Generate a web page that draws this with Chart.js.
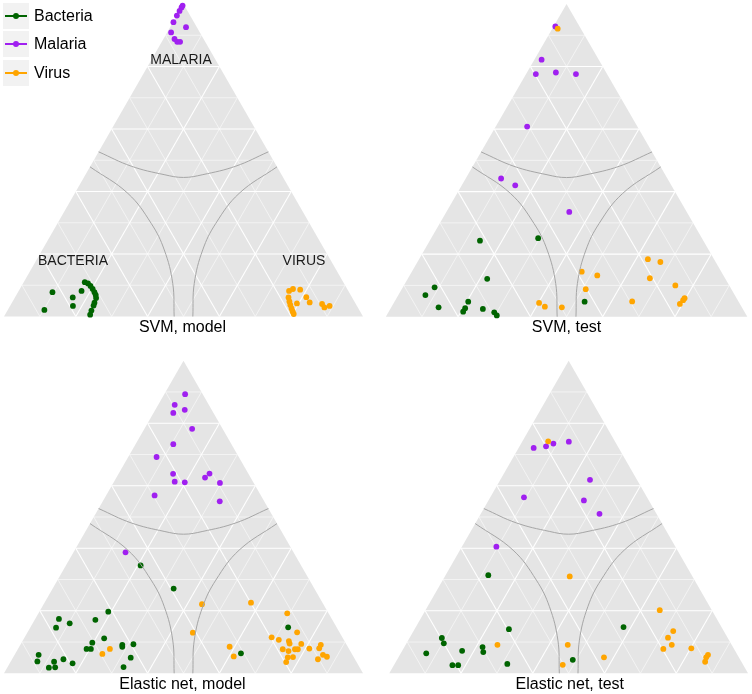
<!DOCTYPE html>
<html>
<head>
<meta charset="utf-8">
<script src="https://cdn.jsdelivr.net/npm/chart.js@4.4.1/dist/chart.umd.min.js"></script>
<style>
  body { margin: 0; width: 752px; height: 694px; overflow: hidden; background: #fff; position: relative;
         font-family: "Liberation Sans", Arial, Helvetica, sans-serif; color: #000; }
  .panel { position: absolute; }
  .corner { position: absolute; font-size: 14px; line-height: 14px; color: #1a1a1a; transform: translateX(-50%); white-space: nowrap; }
  .legend { position: absolute; left: 3px; top: 3px; }
  .row { display: flex; align-items: center; height: 26px; margin-bottom: 2.4px; }
  .key { position: relative; width: 26px; height: 26px; background: #f2f2f2; }
  .key .ln { position: absolute; left: 2px; right: 2px; top: 12px; height: 2px; }
  .key .dot { position: absolute; left: 10px; top: 10px; width: 6px; height: 6px; border-radius: 50%; }
  .lbl { font-size: 16px; line-height: 16px; margin-left: 5px; }
</style>
</head>
<body>
<div class="panel" style="left:0;top:0;width:376px;height:340px"><canvas id="svmModel"></canvas></div>
<div class="panel" style="left:376px;top:0;width:376px;height:340px"><canvas id="svmTest"></canvas></div>
<div class="panel" style="left:0;top:340px;width:376px;height:354px"><canvas id="enetModel"></canvas></div>
<div class="panel" style="left:376px;top:340px;width:376px;height:354px"><canvas id="enetTest"></canvas></div>

<div class="legend" id="legend"></div>
<div class="corner" style="left:181px;top:52px">MALARIA</div>
<div class="corner" style="left:73px;top:253px">BACTERIA</div>
<div class="corner" style="left:304px;top:253px">VIRUS</div>

<script>
// class names and panel titles
const classes = ["Bacteria", "Malaria", "Virus"];
const panelTitles = ["SVM, model", "SVM, test", "Elastic net, model", "Elastic net, test"];
const gridTicks = [0.1, 0.2, 0.3, 0.4, 0.5, 0.6, 0.7, 0.8, 0.9];

// every point is [malaria, virus]; bacteria = 1 - malaria - virus
const svmModelBacteria = [[.078,.096],[.021,.102],[.061,.161],[.082,.175],[.034,.175],[.110,.170],[.106,.181],[.098,.192],
  [.088,.203],[.078,.213],[.069,.221],[.059,.227],[.044,.230],[.035,.232],[.019,.234],[.006,.237]];
const svmModelMalaria = [[.995,0],[.989,0],[.978,0],[.963,0],[.942,.001],[.926,.044],[.909,.011],[.888,.031],[.879,.043],[.879,.051]];
const svmModelVirus = [[.082,.753],[.088,.761],[.086,.782],[.062,.811],[.045,.829],[.042,.795],[.061,.762],[.048,.771],
  [.037,.779],[.026,.788],[.016,.796],[.008,.803],[.040,.866],[.029,.878],[.034,.890]];

const svmTestBacteria = [[.243,.139],[.251,.296],[.121,.220],[.094,.088],[.069,.075],[.030,.131],[.048,.204],[.027,.206],
  [.016,.206],[.025,.256],[.014,.293],[.004,.305],[.048,.526]];
const svmTestMalaria = [[.928,.005],[.822,.020],[.776,.027],[.781,.080],[.776,.138],[.608,.087],[.442,.098],[.420,.148],[.335,.340]];
const svmTestVirus = [[.921,.015],[.184,.633],[.175,.672],[.144,.470],[.132,.519],[.123,.669],[.100,.751],[.088,.509],
  [.044,.402],[.032,.424],[.030,.472],[.049,.657],[.059,.797],[.053,.796],[.041,.793]];

const enetModelBacteria = [[.345,.208],[.271,.337],[.197,.192],[.174,.066],[.171,.169],[.160,.103],[.146,.072],[.112,.223],
  [.098,.197],[.078,.191],[.078,.203],[.091,.284],[.085,.287],[.093,.314],[.050,.328],[.020,.323],[.059,.067],[.038,.074],
  [.037,.121],[.045,.143],[.032,.175],[.018,.116],[.019,.133],[.147,.718],[.064,.628]];
const enetModelMalaria = [[.893,.058],[.859,.046],[.843,.082],[.833,.055],[.782,.133],[.733,.105],[.692,.079],[.638,.152],
  [.613,.169],[.611,.198],[.626,.247],[.639,.253],[.609,.297],[.569,.135],[.550,.326],[.387,.145]];
const enetModelVirus = [[.221,.441],[.226,.575],[.130,.461],[.078,.256],[.062,.243],[.085,.586],[.054,.613],[.192,.693],
  [.131,.751],[.115,.688],[.107,.712],[.103,.742],[.095,.748],[.094,.781],[.077,.738],[.071,.757],[.077,.772],[.077,.780],
  [.079,.811],[.091,.837],[.080,.838],[.051,.765],[.052,.779],[.036,.768],[.059,.859],[.053,.873],[.045,.852]];

const enetTestBacteria = [[.314,.119],[.141,.263],[.148,.579],[.113,.090],[.096,.104],[.064,.071],[.072,.167],[.084,.218],
  [.068,.228],[.026,.163],[.026,.179],[.030,.314],[.043,.490]];
const enetTestMalaria = [[.721,.042],[.726,.074],[.735,.090],[.741,.130],[.619,.250],[.563,.094],[.553,.266],[.510,.331],[.405,.096]];
const enetTestVirus = [[.742,.072],[.310,.348],[.202,.653],[.135,.724],[.114,.720],[.091,.742],[.078,.725],[.080,.802],
  [.059,.859],[.051,.858],[.037,.862],[.051,.573],[.091,.452],[.027,.470],[.091,.256]];

// decision boundaries, [bacteria, malaria, virus]
const malariaBoundary = [[.473,.527,0],[.405,.481,.114],[.327,.454,.219],[.2775,.445,.2775],[.219,.454,.327],[.114,.481,.405],[0,.527,.473]];
const bacteriaBoundary = [[.521,.479,0],[.458,.394,.148],[.441,.298,.261],[.447,.213,.340],[.477,.106,.417],[.526,0,.474]];
const virusBoundary = [[0,.479,.521],[.148,.394,.458],[.261,.298,.441],[.340,.213,.447],[.417,.106,.477],[.474,0,.526]];

const classColors = ["#006400", "#a020f0", "#ffa500"];
const SQ = Math.sqrt(3) / 2;
const toXY = (m, v) => ({ x: v + m / 2, y: m * SQ });

Chart.defaults.font.family = '"Liberation Sans", Arial, Helvetica, sans-serif';
Chart.defaults.color = "#000";

const ternaryBackground = {
  id: "ternaryBackground",
  beforeDatasetsDraw(chart) {
    const { ctx, scales: { x, y } } = chart;
    const P = (b, m, v) => [x.getPixelForValue(v + m / 2), y.getPixelForValue(m * SQ)];
    const seg = (a, c) => { ctx.beginPath(); ctx.moveTo(a[0], a[1]); ctx.lineTo(c[0], c[1]); ctx.stroke(); };
    ctx.save();
    ctx.beginPath();
    ctx.moveTo(...P(1, 0, 0));
    ctx.lineTo(...P(0, 1, 0));
    ctx.lineTo(...P(0, 0, 1));
    ctx.closePath();
    ctx.fillStyle = "#e5e5e5";
    ctx.fill();
    ctx.strokeStyle = "#ffffff";
    gridTicks.forEach((f, i) => {
      ctx.lineWidth = i % 2 ? 1.1 : 0.55;
      seg(P(1 - f, f, 0), P(0, f, 1 - f));
      seg(P(1 - f, 0, f), P(0, 1 - f, f));
      seg(P(f, 1 - f, 0), P(f, 0, 1 - f));
    });
    ctx.restore();
  }
};

function pointSet(label, pts, color, order) {
  return {
    label,
    data: pts.map(([m, v]) => toXY(m, v)),
    backgroundColor: color,
    borderWidth: 0,
    pointRadius: 2.9,
    order,
    clip: false
  };
}

function curveSet(pts) {
  return {
    data: pts.map(([b, m, v]) => toXY(m, v)),
    showLine: true,
    tension: 0.4,
    borderColor: "#a6a6a6",
    borderWidth: 1,
    pointRadius: 0,
    order: 0,
    clip: false
  };
}

function makePanel(id, title, series, padding, titleTop) {
  new Chart(document.getElementById(id), {
    type: "scatter",
    data: {
      datasets: [
        curveSet(malariaBoundary),
        curveSet(bacteriaBoundary),
        curveSet(virusBoundary),
        pointSet(classes[0], series[0], classColors[0], 3),
        pointSet(classes[1], series[1], classColors[1], 2),
        pointSet(classes[2], series[2], classColors[2], 1)
      ]
    },
    options: {
      responsive: true,
      maintainAspectRatio: false,
      animation: false,
      events: [],
      layout: { padding },
      scales: {
        x: { type: "linear", min: 0, max: 1, display: false },
        y: { type: "linear", min: 0, max: SQ, display: false }
      },
      plugins: {
        legend: { display: false },
        tooltip: { enabled: false },
        title: {
          display: true,
          text: title,
          position: "bottom",
          font: { size: 16, weight: "normal" },
          color: "#000",
          padding: { top: titleTop, bottom: 0 }
        }
      }
    },
    plugins: [ternaryBackground]
  });
}

makePanel("svmModel", panelTitles[0], [svmModelBacteria, svmModelMalaria, svmModelVirus],
  { left: 2, right: 13, top: 3.9, bottom: 3.3 }, 1);
makePanel("svmTest", panelTitles[1], [svmTestBacteria, svmTestMalaria, svmTestVirus],
  { left: 9.8, right: 4.7, top: 3.6, bottom: 3.1 }, 1);
makePanel("enetModel", panelTitles[2], [enetModelBacteria, enetModelMalaria, enetModelVirus],
  { left: 2, right: 13, top: 20.7, bottom: 0 }, 1.5);
makePanel("enetTest", panelTitles[3], [enetTestBacteria, enetTestMalaria, enetTestVirus],
  { left: 13.3, right: 1.7, top: 20.7, bottom: 0 }, 1.5);

// legend
const legend = document.getElementById("legend");
classes.forEach((name, i) => {
  const row = document.createElement("div");
  row.className = "row";
  row.innerHTML = '<div class="key"><div class="ln" style="background:' + classColors[i] + '"></div>' +
    '<div class="dot" style="background:' + classColors[i] + '"></div></div><span class="lbl">' + name + '</span>';
  legend.appendChild(row);
});
</script>
</body>
</html>
